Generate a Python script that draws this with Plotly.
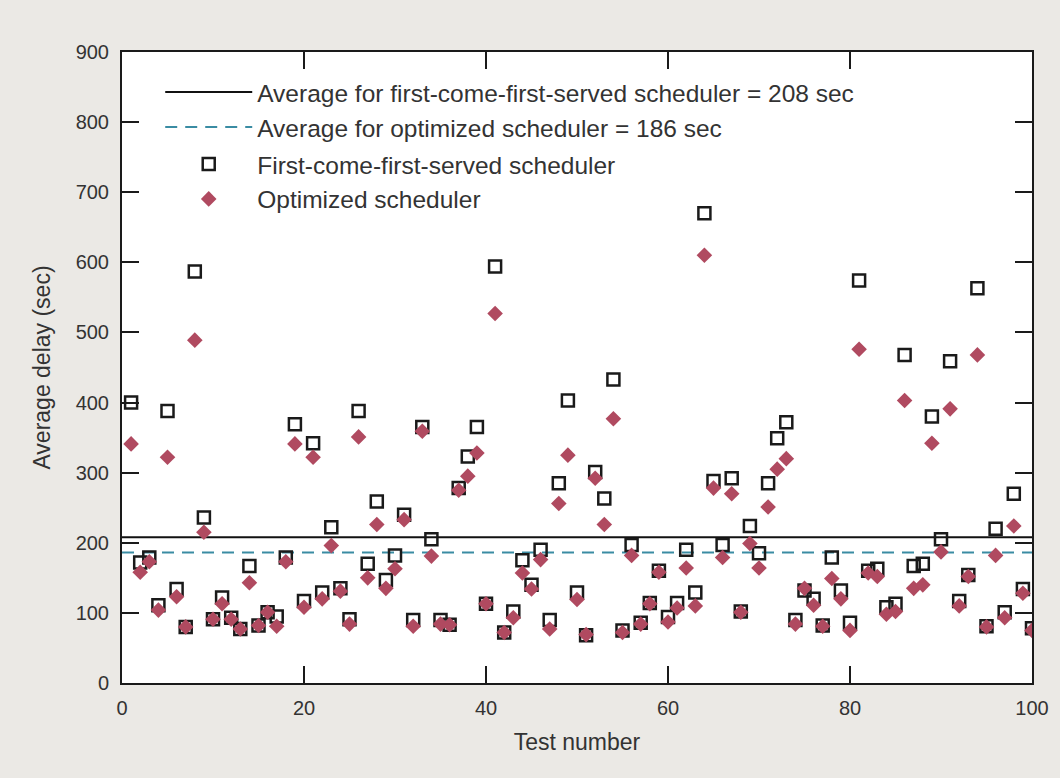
import plotly.graph_objects as go

# Test numbers 1..100
tests = list(range(1, 101))

# Average delay per test (sec), first-come-first-served scheduler
fcfs_delay = [
    400, 172, 179, 111, 388, 134, 80, 587, 236, 91,
    122, 93, 77, 167, 82, 101, 95, 179, 369, 117,
    342, 129, 222, 135, 91, 388, 170, 259, 147, 182,
    240, 90, 365, 205, 90, 83, 278, 323, 365, 113,
    594, 72, 102, 175, 140, 190, 90, 285, 403, 129,
    68, 301, 263, 433, 75, 197, 86, 114, 160, 94,
    114, 190, 129, 670, 288, 197, 292, 102, 224, 185,
    285, 349, 372, 90, 132, 120, 82, 179, 132, 86,
    574, 160, 163, 108, 113, 468, 167, 170, 380, 205,
    459, 117, 154, 563, 81, 220, 101, 270, 134, 78,
]

# Average delay per test (sec), optimized scheduler
opt_delay = [
    341, 158, 173, 104, 322, 123, 80, 489, 215, 91,
    113, 91, 77, 143, 82, 101, 81, 173, 341, 108,
    322, 120, 196, 131, 84, 351, 150, 226, 135, 163,
    233, 81, 359, 181, 84, 83, 275, 295, 328, 113,
    527, 72, 93, 157, 134, 176, 77, 256, 325, 119,
    69, 292, 226, 377, 72, 182, 84, 113, 158, 87,
    107, 164, 110, 610, 278, 179, 270, 101, 199, 164,
    251, 305, 320, 84, 135, 111, 81, 149, 120, 75,
    476, 157, 152, 98, 102, 403, 135, 140, 342, 187,
    391, 110, 152, 468, 80, 182, 93, 224, 128, 75,
]

# Reported averages (sec)
avg_fcfs = 208
avg_opt = 186

x_range = [0, 100]
x_ticks = [0, 20, 40, 60, 80, 100]
y_ticks = [0, 100, 200, 300, 400, 500, 600, 700, 800, 900]

FONT = "Liberation Sans, Arial, Helvetica, sans-serif"
TEXT_COLOR = "#333333"

fig = go.Figure()

# Average lines (listed in the upper legend block)
fig.add_trace(go.Scatter(
    x=x_range, y=[avg_fcfs, avg_fcfs], mode="lines",
    name=f"Average for first-come-first-served scheduler = {avg_fcfs} sec",
    line=dict(color="#111111", width=2),
    legend="legend",
))
fig.add_trace(go.Scatter(
    x=x_range, y=[avg_opt, avg_opt], mode="lines",
    name=f"Average for optimized scheduler = {avg_opt} sec",
    line=dict(color="#3a8ca3", width=2, dash="12px,8px"),
    legend="legend",
))

# Per-test delays (listed in the lower legend block)
fig.add_trace(go.Scatter(
    x=tests, y=fcfs_delay, mode="markers",
    name="First-come-first-served scheduler",
    marker=dict(symbol="square-open", size=12, color="#1a1a1a",
                line=dict(width=2.5, color="#1a1a1a")),
    legend="legend2",
))
fig.add_trace(go.Scatter(
    x=tests, y=opt_delay, mode="markers",
    name="Optimized scheduler",
    marker=dict(symbol="diamond", size=12, color="#b04a60",
                line=dict(width=0)),
    legend="legend2",
))

axis_common = dict(
    showline=True, linecolor="#1a1a1a", linewidth=2, mirror="ticks",
    ticks="inside", ticklen=17, tickwidth=1.5, tickcolor="#1a1a1a",
    showgrid=False, zeroline=False, automargin=False,
    tickfont=dict(family=FONT, size=20, color=TEXT_COLOR),
)

fig.update_xaxes(
    range=x_range, tickvals=x_ticks, ticklabelstandoff=6,
    title=dict(text="Test number", standoff=16,
               font=dict(family=FONT, size=23, color=TEXT_COLOR)),
    **axis_common,
)
fig.update_yaxes(
    range=[0, 900], tickvals=y_ticks, ticklabelstandoff=7,
    title=dict(text="Average delay (sec)", standoff=19,
               font=dict(family=FONT, size=23, color=TEXT_COLOR)),
    **axis_common,
)

legend_common = dict(
    xanchor="left", yanchor="top",
    bgcolor="rgba(0,0,0,0)", borderwidth=0,
    font=dict(family=FONT, size=24.5, color=TEXT_COLOR),
    itemwidth=87,
)

fig.update_layout(
    width=1060, height=778,
    margin=dict(l=122, r=28, t=52, b=95),
    paper_bgcolor="#ebe9e5",
    plot_bgcolor="#ffffff",
    font=dict(family=FONT, color=TEXT_COLOR),
    showlegend=True,
    legend=dict(x=0.042, y=0.972, **legend_common),
    legend2=dict(x=0.042, y=0.858, **legend_common),
)

fig.write_html("out.html")
